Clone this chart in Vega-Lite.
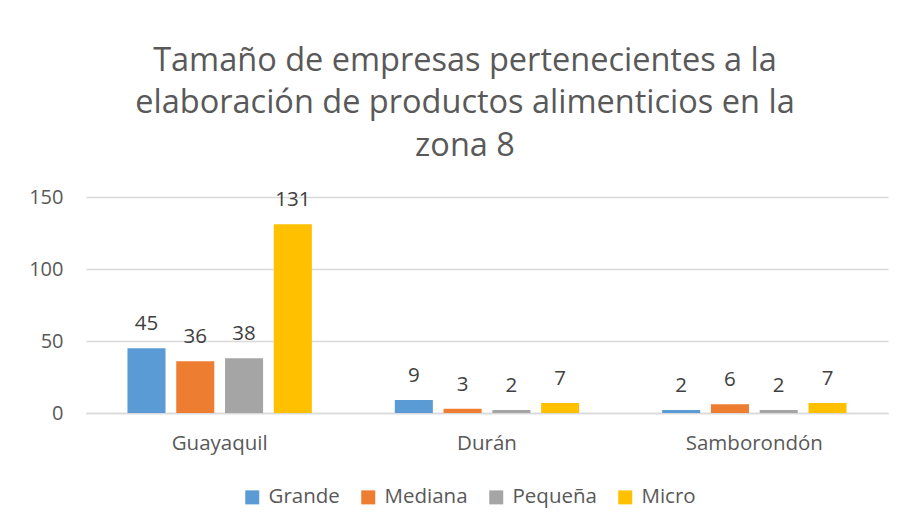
{
  "$schema": "https://vega.github.io/schema/vega-lite/v6.json",
  "width": 802,
  "height": 216,
  "autosize": "none",
  "padding": {"left": 86, "top": 197, "right": 16, "bottom": 117},
  "background": "white",
  "title": {
    "text": ["Tamaño de empresas pertenecientes a la", "elaboración de productos alimenticios en la", "zona 8"],
    "font": "Open Sans",
    "fontSize": 32.5,
    "fontWeight": "normal",
    "color": "#595959",
    "lineHeight": 42.5,
    "anchor": "middle",
    "dx": -22,
    "offset": 25
  },
  "data": {
    "values": [
      {"ciudad": "Guayaquil", "tamano": "Grande", "valor": 45},
      {"ciudad": "Guayaquil", "tamano": "Mediana", "valor": 36},
      {"ciudad": "Guayaquil", "tamano": "Pequeña", "valor": 38},
      {"ciudad": "Guayaquil", "tamano": "Micro", "valor": 131},
      {"ciudad": "Durán", "tamano": "Grande", "valor": 9},
      {"ciudad": "Durán", "tamano": "Mediana", "valor": 3},
      {"ciudad": "Durán", "tamano": "Pequeña", "valor": 2},
      {"ciudad": "Durán", "tamano": "Micro", "valor": 7},
      {"ciudad": "Samborondón", "tamano": "Grande", "valor": 2},
      {"ciudad": "Samborondón", "tamano": "Mediana", "valor": 6},
      {"ciudad": "Samborondón", "tamano": "Pequeña", "valor": 2},
      {"ciudad": "Samborondón", "tamano": "Micro", "valor": 7}
    ]
  },
  "encoding": {
    "x": {
      "field": "ciudad", "type": "nominal", "sort": ["Guayaquil", "Durán", "Samborondón"],
      "scale": {"paddingInner": 0, "paddingOuter": 0},
      "axis": {"title": null, "labelAngle": 0, "labelFontSize": 20.5, "labelFont": "Open Sans", "labelColor": "#595959", "ticks": false, "domain": true, "domainColor": "#D9D9D9", "domainWidth": 1.5, "labelPadding": 20}
    },
    "xOffset": {
      "field": "tamano", "type": "nominal", "sort": ["Grande", "Mediana", "Pequeña", "Micro"],
      "scale": {"paddingInner": 0.22, "paddingOuter": 0.85}
    },
    "y": {
      "field": "valor", "type": "quantitative",
      "scale": {"domain": [0, 150]},
      "axis": {"title": null, "values": [0, 50, 100, 150], "labelFontSize": 20, "labelFont": "Open Sans", "labelColor": "#595959", "ticks": false, "domain": false, "gridColor": "#D9D9D9", "gridWidth": 1.5, "labelPadding": 23}
    }
  },
  "layer": [
    {
      "mark": {"type": "bar"},
      "encoding": {
        "color": {
          "field": "tamano", "type": "nominal", "sort": ["Grande", "Mediana", "Pequeña", "Micro"],
          "scale": {"domain": ["Grande", "Mediana", "Pequeña", "Micro"], "range": ["#5B9BD5", "#ED7D31", "#A5A5A5", "#FFC000"]},
          "legend": {
            "title": null, "orient": "none", "direction": "horizontal",
            "legendX": 156, "legendY": 290,
            "symbolType": "square", "symbolSize": 196, "symbolStrokeWidth": 0,
            "labelFontSize": 20.5, "labelFont": "Open Sans", "labelColor": "#595959",
            "columnPadding": 18, "labelOffset": 6
          }
        }
      }
    },
    {
      "mark": {"type": "text", "dy": -24, "fontSize": 20.5, "font": "Open Sans", "color": "#404040"},
      "encoding": {"text": {"field": "valor", "type": "quantitative"}}
    }
  ],
  "config": {"view": {"stroke": null}}
}
